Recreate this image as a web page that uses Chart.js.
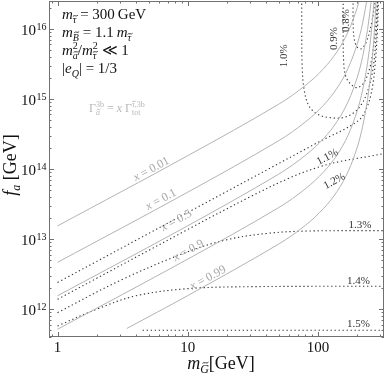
<!DOCTYPE html>
<html><head><meta charset="utf-8">
<script src="https://cdn.jsdelivr.net/npm/chart.js@4.4.1/dist/chart.umd.min.js"></script>
<style>html,body{margin:0;padding:0;background:#fff}#wrap{width:386px;height:376px;position:relative}</style>
</head><body><div id="wrap"><canvas id="c"></canvas></div>
<script>
// axis ranges
var mMin = 0.86, mMax = 321, fMin = 4e11, fMax = 2.5e16;
var xTicks = [1, 10, 100];
var yExp = [12, 13, 14, 15, 16];

// solid contours, x = Gamma ratio
var xNames = ['0.01', '0.1', '0.5', '0.9', '0.99'];
var mSolid = [1, 10, 50, 80, 110, 140, 170, 200, 220, 240, 255, 265, 275, 282, 288];
var fX001 = [1.54e13, 1.55e14, 8.43e14, 1.56e15, 2.69e15, 4.74e15, 9.06e15, 2.02e16, 4.01e16];
var fX01 = [4.65e12, 4.67e13, 2.54e14, 4.70e14, 8.11e14, 1.43e15, 2.73e15, 6.10e15, 1.21e16, 2.93e16];
var fX05 = [1.55e12, 1.55e13, 8.47e13, 1.57e14, 2.70e14, 4.76e14, 9.10e14, 2.03e15, 4.03e15, 9.77e15, 2.39e16, 5.24e16];
var fX09 = [5.16e11, 5.18e12, 2.82e13, 5.22e13, 9.02e13, 1.59e14, 3.03e14, 6.78e14, 1.34e15, 3.26e15, 7.96e15, 1.75e16, 5.02e16];
var mX099 = [3.4, 10, 50, 80, 110, 140, 170, 200, 220, 240, 255, 265, 275, 282];
var fX099 = [5.29e11, 1.56e12, 8.51e12, 1.57e13, 2.72e13, 4.78e13, 9.14e13, 2.04e14, 4.05e14, 9.82e14, 2.40e15, 5.26e15, 1.51e16, 4.28e16];
// label anchors for x contours
var xLabM = [5.4, 6.4, 8.4, 10.4, 14.7];
var xLabF = [1.03e14, 3.8e13, 1.9e13, 7.1e12, 2.9e12];

// dotted contours, percent
var m08 = [186, 186, 190, 200, 215, 235, 255, 270, 282];
var f08 = [3e16, 1.2e16, 7e15, 5.5e15, 5.2e15, 6.5e15, 1.1e16, 2e16, 4e16];
var m09 = [156, 156, 158, 165, 180, 200, 225, 250, 268, 280, 288];
var f09 = [3e16, 8e15, 3e15, 2e15, 1.6e15, 1.45e15, 1.7e15, 2.8e15, 6e15, 1.4e16, 3.5e16];
var m10 = [75, 75, 75.5, 78, 85, 100, 125, 155, 185, 210, 235, 258, 272, 281, 288];
var f10 = [3e16, 1e16, 3e15, 1.4e15, 8e14, 6e14, 5.4e14, 5.4e14, 6.2e14, 7.8e14, 1.15e15, 2.1e15, 4.2e15, 1e16, 3e16];
var m11 = [1, 10, 100, 204, 240, 262, 276, 286, 292];
var f11 = [2.4e12, 2.4e13, 2.4e14, 4.9e14, 8e14, 1.5e15, 3.5e15, 1e16, 3e16];
var m12 = [1, 10, 30, 60, 100, 150, 200, 250, 321];
var f12 = [1.38e12, 1.37e13, 4.0e13, 7.4e13, 1.06e14, 1.29e14, 1.42e14, 1.52e14, 1.66e14];
var m13 = [1, 3, 10, 20, 40, 80, 321];
var f13 = [8.9e11, 2.55e12, 6.6e12, 9.8e12, 1.2e13, 1.3e13, 1.32e13];
var m14 = [1, 2, 4, 10, 30, 321];
var f14 = [5.75e11, 1.0e12, 1.55e12, 1.96e12, 2.09e12, 2.12e12];
var m15 = [4.5, 321];
var f15 = [5.0e11, 5.0e11];
var pNames = ['0.8%', '0.9%', '1.0%', '1.1%', '1.2%', '1.3%', '1.4%', '1.5%'];
var pLabM = [174, 140, 58, 121, 137, 210, 204, 204];
var pLabF = [1.5e16, 8.3e15, 4.7e15, 1.55e14, 7.0e13, 1.66e13, 2.6e12, 6.4e11];
var pLabRot = ['v', 'v', 'v', 's', 's', 'h', 'h', 'h'];

var SERIF = "'Liberation Serif','DejaVu Serif',serif";

function pts(ms, fs) {
  var out = [];
  for (var i = 0; i < Math.min(ms.length, fs.length); i++) out.push({x: ms[i], y: fs[i]});
  return out;
}
function solid(ms, fs) {
  return {data: pts(ms, fs), showLine: true, borderColor: '#b3b3b3', borderWidth: 1,
    pointRadius: 0, tension: 0.35, fill: false};
}
function dotted(ms, fs) {
  return {data: pts(ms, fs), showLine: true, borderColor: '#333', borderWidth: 1.1,
    borderDash: [1.3, 2.7], pointRadius: 0, tension: 0.35, fill: false};
}

function tilde(ctx, cx, ty, w) {
  ctx.save();
  ctx.strokeStyle = ctx.fillStyle; ctx.lineWidth = 0.8;
  ctx.beginPath();
  ctx.moveTo(cx - w / 2, ty + 0.6);
  ctx.bezierCurveTo(cx - w / 4, ty - 1.4, cx + w / 4, ty + 1.4, cx + w / 2, ty - 0.6);
  ctx.stroke();
  ctx.restore();
}
// rich text parts: [text, italic, size, dy, tildeHeight] or {sup:[...], sub:[...]}
function runs(ctx, parts, x, y, draw) {
  var x0 = x;
  parts.forEach(function(p) {
    if (!Array.isArray(p)) {
      var w1 = p.sup ? runs(ctx, p.sup, x, y, draw) : 0;
      var w2 = p.sub ? runs(ctx, p.sub, x, y, draw) : 0;
      x += Math.max(w1, w2);
      return;
    }
    ctx.font = (p[1] ? 'italic ' : '') + p[2] + 'px ' + SERIF;
    var w = ctx.measureText(p[0]).width;
    if (draw) {
      ctx.fillText(p[0], x, y + (p[3] || 0));
      if (p[4]) tilde(ctx, x + w / 2 + p[2] * 0.08, y + (p[3] || 0) - p[2] * p[4], p[2] * 0.5);
    }
    x += w;
  });
  return x - x0;
}
function rotRuns(ctx, parts, cx, cy, ang) {
  ctx.save();
  ctx.translate(cx, cy); ctx.rotate(ang);
  var w = runs(ctx, parts, 0, 0, false);
  runs(ctx, parts, -w / 2, 0, true);
  ctx.restore();
}

var deco = {
  id: 'deco',
  afterDatasetsDraw: function(chart) {
    var ctx = chart.ctx, a = chart.chartArea, xs = chart.scales.x, ys = chart.scales.y;
    ctx.save();
    ctx.textBaseline = 'alphabetic'; ctx.textAlign = 'left';

    // frame + inward ticks
    ctx.strokeStyle = '#707070'; ctx.lineWidth = 1;
    ctx.strokeRect(a.left + 0.5, a.top + 0.5, a.right - a.left - 1, a.bottom - a.top - 1);
    ctx.beginPath();
    [0.1, 1, 10, 100].forEach(function(d) {
      for (var k = 1; k < 10; k++) {
        var v = k * d;
        if (v < mMin || v > mMax) continue;
        var px = Math.round(xs.getPixelForValue(v)) + 0.5, len = k == 1 ? 5 : 2.5;
        ctx.moveTo(px, a.bottom); ctx.lineTo(px, a.bottom - len);
        ctx.moveTo(px, a.top); ctx.lineTo(px, a.top + len);
      }
    });
    for (var e = 11; e <= 16; e++) {
      for (var k = 1; k < 10; k++) {
        var v = k * Math.pow(10, e);
        if (v < fMin || v > fMax) continue;
        var py = Math.round(ys.getPixelForValue(v)) + 0.5, len = k == 1 ? 5 : 2.5;
        ctx.moveTo(a.left, py); ctx.lineTo(a.left + len, py);
        ctx.moveTo(a.right, py); ctx.lineTo(a.right - len, py);
      }
    }
    ctx.stroke();

    // tick labels
    ctx.fillStyle = '#111';
    ctx.font = '15px ' + SERIF; ctx.textAlign = 'center';
    xTicks.forEach(function(v) { ctx.fillText(String(v), xs.getPixelForValue(v), 352); });
    yExp.forEach(function(e) {
      var py = ys.getPixelForValue(Math.pow(10, e));
      ctx.textAlign = 'right'; ctx.font = '15px ' + SERIF;
      ctx.fillText('10', 36, py + 6);
      ctx.textAlign = 'left'; ctx.font = '10px ' + SERIF;
      ctx.fillText(String(e), 36.5, py + 1);
    });
    ctx.textAlign = 'left';

    // axis titles
    var xt = [['m', 1, 18], ['G', 1, 12, 4, 0.85], ['[GeV]', 0, 18]];
    var w = runs(ctx, xt, 0, 0, false);
    runs(ctx, xt, 221 - w / 2, 369, true);
    rotRuns(ctx, [['f', 1, 18], ['a', 1, 12, 4], [' [GeV]', 0, 18]], 16, 165, -Math.PI / 2);

    // parameter box
    var S = 15, s = 10;
    runs(ctx, [['m', 1, S], ['\u03c4', 1, s, 4, 0.72], [' = 300\u2009GeV', 0, S]], 62, 19, true);
    runs(ctx, [['m', 1, S], ['B', 1, s, 4, 0.88], [' = 1.1\u2009', 0, S], ['m', 1, S], ['\u03c4', 1, s, 4, 0.72]], 62, 37, true);
    runs(ctx, [['m', 1, S], {sup: [['2', 0, s, -6]], sub: [['a', 1, s, 4, 0.72]]}, ['/', 0, S],
      ['m', 1, S], {sup: [['2', 0, s, -6]], sub: [['\u03c4', 1, s, 4, 0.72]]}, [' \u226a 1', 0, S]], 62, 55, true);
    runs(ctx, [['|', 0, S], ['e', 1, S], ['Q', 1, s, 4], ['| = 1/3', 0, S]], 62, 73, true);

    ctx.fillStyle = '#b8b8b8';
    runs(ctx, [['\u0393', 0, 12], {sup: [['3b', 0, 8, -5]], sub: [['a', 1, 8, 3, 0.7]]}, [' = ', 0, 12], ['x', 1, 12], [' \u0393', 0, 12],
      {sup: [['\u03c4', 1, 8, -5, 0.7], [',3b', 0, 8, -5]], sub: [['tot', 0, 8, 3]]}], 89, 112, true);

    // contour labels for x
    var p1x = xs.getPixelForValue(1), p1y = ys.getPixelForValue(1e12);
    var ang = Math.atan2(ys.getPixelForValue(1e13) - p1y, xs.getPixelForValue(10) - p1x);
    ctx.fillStyle = '#a8a8a8';
    xNames.forEach(function(n, i) {
      rotRuns(ctx, [['x', 1, 12], [' = ' + n, 0, 12]], xs.getPixelForValue(xLabM[i]), ys.getPixelForValue(xLabF[i]) + 4, ang);
    });

    // percent labels
    ctx.fillStyle = '#333';
    pNames.forEach(function(n, i) {
      var r = pLabRot[i] == 'v' ? -Math.PI / 2 : (pLabRot[i] == 's' ? ang : 0);
      rotRuns(ctx, [[n, 0, 11]], xs.getPixelForValue(pLabM[i]), ys.getPixelForValue(pLabF[i]) + 4, r);
    });
    ctx.restore();
  }
};

new Chart(document.getElementById('c'), {
  type: 'scatter',
  data: {datasets: [
    solid(mSolid, fX001), solid(mSolid, fX01), solid(mSolid, fX05), solid(mSolid, fX09), solid(mX099, fX099),
    dotted(m08, f08), dotted(m09, f09), dotted(m10, f10), dotted(m11, f11),
    dotted(m12, f12), dotted(m13, f13), dotted(m14, f14), dotted(m15, f15)
  ]},
  options: {
    responsive: true, maintainAspectRatio: false, animation: false,
    layout: {padding: {left: 49, right: 2, top: 1, bottom: 39}},
    plugins: {legend: {display: false}, tooltip: {enabled: false}},
    scales: {
      x: {type: 'logarithmic', min: mMin, max: mMax, display: false},
      y: {type: 'logarithmic', min: fMin, max: fMax, display: false}
    }
  },
  plugins: [deco]
});
</script></body></html>
